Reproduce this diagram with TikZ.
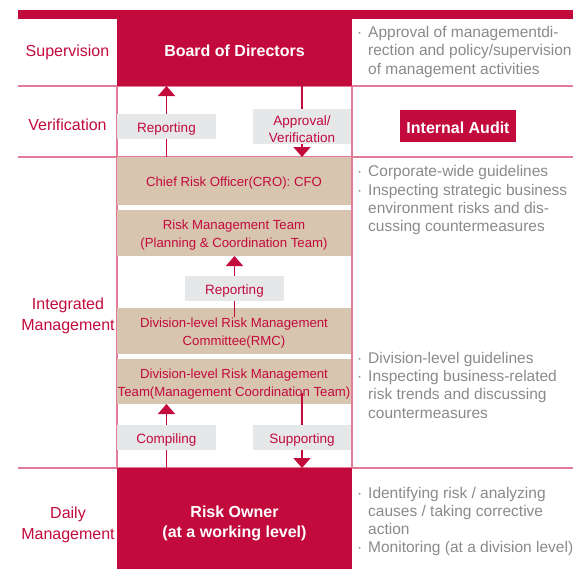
\documentclass[tikz,border=0pt]{standalone}
\usepackage{fontspec}
\setmainfont{Liberation Sans}
\usetikzlibrary{arrows.meta}
\definecolor{crim}{HTML}{C20A3D}
\definecolor{pinkline}{HTML}{E07C98}
\definecolor{beige}{HTML}{D8C5AF}
\definecolor{lgray}{HTML}{E6E7E9}
\definecolor{dgray}{HTML}{8A8A8A}
\pgfdeclarelayer{bg}
\pgfdeclarelayer{mid}
\pgfsetlayers{bg,mid,main}
\newcommand\mybul{\makebox[11pt][l]{·}}
\newcommand\myind{\hspace*{11pt}}
\begin{document}
\begin{tikzpicture}[x=1pt,y=-1pt,
  box/.style={rectangle,inner sep=0,outer sep=0,minimum width=235pt},
  redbox/.style={box,fill=crim},
  beigebox/.style={box,fill=beige,minimum width=234pt},
  glabel/.style={rectangle,inner sep=0,outer sep=0,fill=lgray,minimum width=99pt,minimum height=25pt},
  tx/.style={inner sep=0,align=center,yshift=-2.5pt},
  whitetx/.style={tx,text=white,font=\fontsize{16}{20}\selectfont\bfseries},
  beigetx/.style={tx,text=crim,font=\fontsize{13.2}{18}\selectfont},
  graytx/.style={tx,text=crim,font=\fontsize{13.5}{17}\selectfont},
  rowlabel/.style={tx,text=crim,font=\fontsize{16}{21}\selectfont},
  note/.style={inner sep=0,anchor=base west,text=dgray,font=\fontsize{15.5}{18.3}\selectfont},
  frame/.style={pinkline,line width=1.2pt},
  arr/.style={crim,line width=1.6pt,-{Triangle[width=17pt,length=10pt]}}]
\useasboundingbox (0,0) rectangle (573,568);
\begin{pgfonlayer}{bg}
  \fill[crim] (18,10) rectangle (573,18.5);
  \draw[frame] (18,86) -- (573,86);
  \draw[frame] (18,157) -- (573,157);
  \draw[frame] (18,468) -- (573,468);
  \draw[frame] (117,86) -- (117,468);
  \draw[frame] (352,86) -- (352,468);
  \node[redbox,minimum height=76pt] (board) at (234.5,48) {};
  \node[whitetx] (boardt) at (board) {Board of Directors};
  \node[redbox,minimum height=110pt] (owner) at (234.5,523) {};
  \node[whitetx] (ownert) at (234.5,521) {Risk Owner\\(at a working level)};
  \node[beigebox,minimum height=48pt] (cro) at (234,181) {};
  \node[beigetx] (crot) at (cro) {Chief Risk Officer(CRO): CFO};
  \node[beigebox,minimum height=46pt] (rmt) at (234,233) {};
  \node[beigetx] (rmtt) at (rmt) {Risk Management Team\\(Planning \& Coordination Team)};
  \node[beigebox,minimum height=46pt] (rmc) at (234,331) {};
  \node[beigetx] (rmct) at (rmc) {Division-level Risk Management\\Committee(RMC)};
  \node[beigebox,minimum height=45pt] (drmt) at (234,381.5) {};
  \node[beigetx] (drmtt) at (drmt) {Division-level Risk Management\\Team(Management Coordination Team)};
\end{pgfonlayer}
\node[glabel] (rep1) at (166.5,126.5) {};
\node[graytx] (rep1t) at (rep1) {Reporting};
\node[glabel,minimum width=98pt,minimum height=35pt] (appr) at (302,126.5) {};
\node[graytx] (apprt) at (appr) {Approval/\\Verification};
\node[glabel] (rep2) at (234.5,288.5) {};
\node[graytx] (rep2t) at (rep2) {Reporting};
\node[glabel] (comp) at (166.5,437.5) {};
\node[graytx] (compt) at (comp) {Compiling};
\node[glabel,minimum width=98pt] (supp) at (302,437.5) {};
\node[graytx] (suppt) at (supp) {Supporting};
\coordinate (rmcin) at (234.5,317);
\coordinate (drmtin) at (302,393);
\begin{pgfonlayer}{mid}
  \draw[arr] (rep1 |- cro.north) -- (rep1 |- board.south);
  \draw[arr] (appr |- board.south) -- (appr |- cro.north);
  \draw[arr] (rmcin) -- (rep2 |- rmt.south);
  \draw[arr] (comp |- owner.north) -- (comp |- drmt.south);
  \draw[arr] (drmtin) -- (supp |- owner.north);
\end{pgfonlayer}
\node[box,fill=crim,minimum width=116pt,minimum height=32pt] (audit) at (458,126) {};
\node[whitetx,yshift=1pt] (auditt) at (audit) {Internal Audit};
\node[rowlabel] (lsup) at (67.5,50) {Supervision};
\node[rowlabel] (lver) at (67.5,122) {Verification};
\node[rowlabel] (lint) at (68,313) {Integrated\\Management};
\node[rowlabel] (ldaily) at (68,522) {Daily\\Management};
\node[note] (n1) at (357,37.6) {\parbox[t]{230pt}{\raggedright\mybul Approval of managementdi-\\\myind rection and policy/supervision\\\myind of management activities}};
\node[note] (n2) at (357,176.7) {\parbox[t]{230pt}{\raggedright\mybul Corporate-wide guidelines\\\mybul Inspecting strategic business\\\myind environment risks and dis-\\\myind cussing countermeasures}};
\node[note] (n3) at (357,363.3) {\parbox[t]{230pt}{\raggedright\mybul Division-level guidelines\\\mybul Inspecting business-related\\\myind risk trends and discussing\\\myind countermeasures}};
\node[note] (n4) at (357,498) {\parbox[t]{230pt}{\raggedright\mybul Identifying risk / analyzing\\\myind causes / taking corrective\\\myind action\\\mybul Monitoring (at a division level)}};
\end{tikzpicture}
\end{document}
